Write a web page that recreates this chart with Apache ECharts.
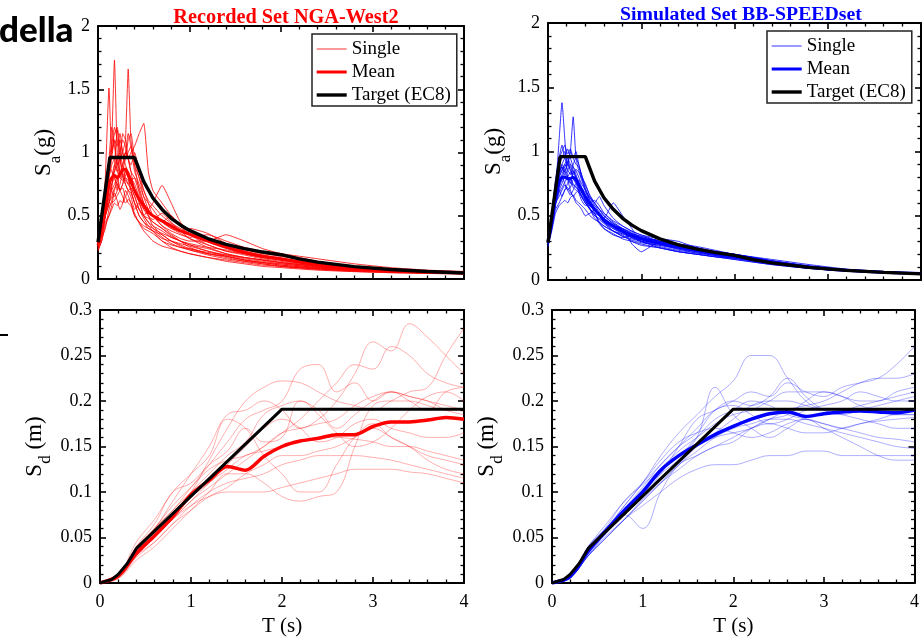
<!DOCTYPE html>
<html><head><meta charset="utf-8">
<script src="https://cdn.jsdelivr.net/npm/echarts@6/dist/echarts.min.js"></script>
<style>html,body{margin:0;padding:0;background:#fff}#c{width:922px;height:642px}</style>
</head><body><div id="c"></div>
<script>
// ---------- DATA ----------
const TSA = [0, 0.04, 0.08, 0.12, 0.15, 0.18, 0.21, 0.24, 0.27, 0.3, 0.33, 0.36, 0.4, 0.45, 0.5, 0.55, 0.6, 0.7, 0.8, 0.9, 1.0, 1.2, 1.4, 1.6, 1.8, 2.0, 2.4, 2.8, 3.2, 3.6, 4.0];
const TSD = [0, 0.2, 0.4, 0.6, 0.8, 1.0, 1.2, 1.4, 1.6, 1.8, 2.0, 2.2, 2.4, 2.6, 2.8, 3.0, 3.2, 3.4, 3.6, 3.8, 4.0];

const targetSaT = [0, 0.13, 0.4, 0.5, 0.6, 0.7, 0.8, 0.9, 1.0, 1.2, 1.4, 1.6, 1.8, 2.0, 2.2, 2.4, 2.8, 3.2, 3.6, 4.0];
const targetSaV = [0.29, 0.96, 0.96, 0.77, 0.64, 0.55, 0.48, 0.427, 0.384, 0.32, 0.274, 0.24, 0.213, 0.192, 0.159, 0.133, 0.098, 0.075, 0.059, 0.048];
const targetSdT = [0, 0.13, 0.2, 0.3, 0.4, 2.0, 4.0];
const targetSdV = [0, 0.004, 0.0095, 0.0215, 0.038, 0.191, 0.191];

const redSaMean = [0.27,0.38,0.55,0.76,0.8,0.82,0.8,0.83,0.86,0.87,0.82,0.77,0.7,0.63,0.58,0.53,0.5,0.46,0.42,0.38,0.355,0.3,0.25,0.21,0.18,0.16,0.115,0.088,0.07,0.058,0.05];
const blueSaMean = [0.3,0.45,0.63,0.76,0.8,0.8,0.79,0.79,0.8,0.78,0.74,0.7,0.65,0.59,0.55,0.51,0.47,0.42,0.38,0.345,0.32,0.285,0.255,0.23,0.205,0.185,0.138,0.1,0.075,0.06,0.05];
const redSdMean = [0,0.008,0.033,0.052,0.073,0.097,0.113,0.128,0.124,0.139,0.15,0.156,0.159,0.163,0.163,0.172,0.177,0.177,0.179,0.182,0.18];
const blueSdMean = [0,0.007,0.035,0.058,0.08,0.1,0.124,0.14,0.152,0.163,0.172,0.18,0.186,0.188,0.183,0.186,0.188,0.189,0.188,0.187,0.19];

const redSaSingles = [
 [0.27,0.4,0.6,0.9,1.1,1.73,1.0,0.85,0.9,0.8,0.75,0.7,0.6,0.5,0.45,0.42,0.4,0.33,0.28,0.25,0.24,0.2,0.17,0.14,0.12,0.1,0.08,0.065,0.055,0.05,0.045],
 [0.26,0.35,0.55,0.7,0.8,0.9,0.85,0.95,1.0,1.1,1.66,1.1,0.9,0.7,0.6,0.55,0.5,0.45,0.4,0.36,0.32,0.27,0.22,0.2,0.17,0.15,0.11,0.09,0.07,0.06,0.05],
 [0.25,0.4,0.8,1.51,1.0,1.1,0.9,0.95,0.8,0.75,0.7,0.65,0.55,0.6,0.5,0.45,0.42,0.38,0.33,0.3,0.27,0.22,0.18,0.15,0.13,0.11,0.085,0.07,0.058,0.05,0.045],
 [0.28,0.35,0.5,0.65,0.75,0.85,0.95,1.0,1.1,1.05,0.95,1.0,1.05,1.15,1.23,0.85,0.7,0.6,0.5,0.42,0.38,0.3,0.25,0.2,0.17,0.15,0.1,0.08,0.065,0.055,0.05],
 [0.3,0.4,0.55,0.6,0.7,0.75,0.8,0.7,0.75,0.85,0.8,0.7,0.6,0.55,0.5,0.55,0.6,0.74,0.6,0.45,0.38,0.3,0.35,0.3,0.24,0.2,0.14,0.1,0.08,0.065,0.055],
 [0.22,0.3,0.45,0.5,0.55,0.6,0.58,0.62,0.6,0.65,0.6,0.58,0.5,0.45,0.4,0.38,0.36,0.3,0.25,0.22,0.2,0.17,0.15,0.13,0.11,0.1,0.08,0.065,0.055,0.048,0.042],
 [0.27,0.45,0.7,0.95,1.2,1.05,0.9,1.1,1.0,0.9,0.85,0.8,0.75,0.65,0.6,0.5,0.45,0.4,0.35,0.3,0.25,0.2,0.18,0.15,0.13,0.12,0.09,0.07,0.06,0.052,0.046],
 [0.26,0.35,0.5,0.6,0.75,0.8,0.7,0.75,0.85,0.95,1.0,1.05,0.9,0.8,0.65,0.55,0.5,0.42,0.38,0.35,0.33,0.35,0.3,0.25,0.22,0.2,0.16,0.12,0.09,0.07,0.06],
 [0.29,0.5,0.75,0.9,0.85,0.8,0.75,0.7,0.72,0.65,0.7,0.68,0.6,0.5,0.45,0.4,0.38,0.32,0.3,0.28,0.26,0.22,0.19,0.16,0.14,0.12,0.09,0.075,0.06,0.052,0.046],
 [0.24,0.32,0.4,0.55,0.62,0.7,0.78,0.85,0.82,0.78,0.75,0.78,0.8,0.72,0.6,0.5,0.42,0.35,0.3,0.26,0.23,0.19,0.16,0.14,0.12,0.1,0.075,0.06,0.05,0.044,0.04],
 [0.28,0.42,0.6,0.85,1.0,1.15,1.2,1.05,0.95,1.0,1.15,1.05,0.85,0.75,0.65,0.6,0.55,0.45,0.4,0.38,0.4,0.36,0.28,0.22,0.18,0.15,0.11,0.085,0.07,0.058,0.05],
 [0.25,0.35,0.5,0.6,0.65,0.72,0.75,0.7,0.65,0.6,0.63,0.6,0.5,0.45,0.42,0.4,0.38,0.35,0.3,0.27,0.24,0.21,0.19,0.17,0.15,0.13,0.1,0.08,0.062,0.053,0.047],
 [0.3,0.45,0.65,0.8,0.9,0.95,0.85,0.8,0.9,1.0,0.95,0.9,1.0,0.85,0.7,0.6,0.5,0.45,0.5,0.42,0.35,0.27,0.22,0.19,0.16,0.14,0.1,0.08,0.065,0.055,0.048],
 [0.27,0.38,0.55,0.7,0.8,0.85,0.9,0.8,0.78,0.82,0.85,0.8,0.7,0.6,0.5,0.45,0.4,0.36,0.33,0.3,0.28,0.25,0.23,0.2,0.17,0.15,0.11,0.085,0.068,0.057,0.05],
 [0.26,0.36,0.52,0.65,0.72,0.9,1.18,0.95,0.85,0.75,0.7,0.72,0.65,0.55,0.48,0.42,0.38,0.3,0.27,0.25,0.23,0.2,0.18,0.15,0.13,0.11,0.085,0.068,0.055,0.048,0.043],
 [0.28,0.4,0.6,0.75,0.7,0.65,0.7,0.9,1.15,1.1,0.95,0.85,0.7,0.62,0.55,0.52,0.5,0.42,0.36,0.32,0.3,0.3,0.26,0.22,0.19,0.16,0.12,0.09,0.072,0.06,0.052],
 [0.23,0.3,0.42,0.5,0.58,0.68,0.62,0.55,0.6,0.7,0.66,0.6,0.52,0.44,0.38,0.34,0.3,0.26,0.24,0.22,0.2,0.17,0.14,0.12,0.1,0.09,0.07,0.058,0.05,0.044,0.04],
 [0.29,0.42,0.62,0.8,0.95,1.1,1.05,1.15,1.0,0.95,1.1,1.15,0.95,0.8,0.7,0.62,0.58,0.5,0.44,0.4,0.36,0.3,0.26,0.23,0.2,0.18,0.13,0.1,0.078,0.064,0.054],
 [0.26,0.36,0.5,0.58,0.6,0.62,0.66,0.7,0.75,0.8,0.78,0.72,0.66,0.55,0.5,0.48,0.45,0.4,0.34,0.3,0.27,0.24,0.2,0.17,0.15,0.13,0.095,0.075,0.06,0.05,0.045],
 [0.28,0.44,0.65,0.85,1.05,1.2,1.1,1.0,0.9,1.0,0.95,0.85,0.8,0.68,0.55,0.5,0.47,0.52,0.45,0.38,0.32,0.25,0.2,0.17,0.15,0.13,0.1,0.08,0.064,0.054,0.047]
];
const blueSaSingles = [
 [0.3,0.45,0.7,1.1,1.38,1.1,0.8,0.75,0.85,0.8,0.7,0.65,0.6,0.55,0.5,0.48,0.45,0.4,0.37,0.33,0.3,0.27,0.24,0.22,0.2,0.18,0.13,0.095,0.072,0.06,0.05],
 [0.28,0.4,0.6,0.75,0.8,0.85,0.9,1.0,1.27,0.95,0.85,0.8,0.7,0.6,0.55,0.5,0.47,0.42,0.38,0.35,0.33,0.3,0.27,0.24,0.21,0.19,0.14,0.1,0.076,0.062,0.052],
 [0.32,0.5,0.7,0.95,1.05,0.95,0.9,1.0,0.95,1.0,0.9,0.8,0.75,0.65,0.6,0.65,0.58,0.48,0.42,0.38,0.35,0.3,0.26,0.23,0.21,0.19,0.14,0.1,0.076,0.062,0.052],
 [0.29,0.45,0.6,0.7,0.65,0.7,0.75,0.8,0.72,0.7,0.68,0.65,0.6,0.55,0.52,0.5,0.48,0.6,0.5,0.4,0.3,0.32,0.3,0.25,0.22,0.2,0.145,0.105,0.078,0.063,0.053],
 [0.31,0.5,0.75,0.85,0.9,0.85,0.8,0.78,0.75,0.72,0.7,0.65,0.6,0.55,0.52,0.45,0.4,0.35,0.33,0.35,0.3,0.28,0.25,0.22,0.2,0.18,0.135,0.1,0.075,0.06,0.05],
 [0.3,0.45,0.65,0.8,0.85,0.9,0.95,0.9,0.85,0.8,0.75,0.7,0.65,0.6,0.55,0.5,0.45,0.38,0.35,0.3,0.27,0.25,0.22,0.2,0.18,0.17,0.13,0.095,0.072,0.058,0.048],
 [0.28,0.42,0.6,0.7,0.75,0.8,0.78,0.7,0.65,0.68,0.7,0.72,0.65,0.58,0.55,0.5,0.45,0.42,0.4,0.28,0.22,0.3,0.28,0.25,0.21,0.18,0.13,0.095,0.072,0.058,0.048],
 [0.3,0.48,0.7,0.9,0.95,1.0,0.92,0.85,0.8,0.75,0.78,0.72,0.62,0.55,0.48,0.45,0.42,0.38,0.34,0.31,0.29,0.27,0.25,0.24,0.22,0.2,0.15,0.11,0.08,0.064,0.053],
 [0.27,0.4,0.55,0.6,0.65,0.7,0.72,0.68,0.65,0.6,0.58,0.55,0.5,0.52,0.55,0.52,0.48,0.42,0.38,0.35,0.32,0.28,0.24,0.21,0.19,0.17,0.13,0.095,0.072,0.058,0.048],
 [0.3,0.46,0.68,0.85,0.88,0.82,0.85,0.9,0.88,0.85,0.8,0.75,0.7,0.62,0.56,0.5,0.45,0.4,0.36,0.33,0.31,0.28,0.25,0.23,0.21,0.19,0.14,0.1,0.075,0.06,0.05],
 [0.29,0.44,0.62,0.78,0.8,0.75,0.7,0.72,0.78,0.8,0.75,0.68,0.62,0.56,0.5,0.47,0.44,0.38,0.34,0.32,0.3,0.26,0.23,0.21,0.19,0.17,0.125,0.092,0.07,0.056,0.047],
 [0.31,0.47,0.66,0.82,0.9,0.95,1.02,0.95,0.88,0.82,0.76,0.7,0.64,0.6,0.58,0.55,0.5,0.44,0.39,0.36,0.34,0.3,0.26,0.23,0.21,0.19,0.145,0.105,0.078,0.063,0.052],
 [0.3,0.44,0.6,0.72,0.78,0.82,0.8,0.76,0.74,0.72,0.7,0.66,0.62,0.58,0.54,0.5,0.46,0.41,0.37,0.34,0.32,0.28,0.26,0.22,0.19,0.17,0.13,0.095,0.072,0.058,0.049],
 [0.28,0.42,0.58,0.68,0.72,0.76,0.8,0.84,0.8,0.76,0.72,0.68,0.66,0.6,0.52,0.44,0.4,0.36,0.32,0.3,0.28,0.25,0.22,0.2,0.18,0.16,0.12,0.09,0.07,0.056,0.047],
 [0.3,0.46,0.64,0.8,0.86,0.9,0.86,0.82,0.9,0.95,0.9,0.82,0.72,0.62,0.56,0.52,0.48,0.42,0.4,0.37,0.33,0.29,0.25,0.22,0.2,0.18,0.135,0.1,0.074,0.06,0.05],
 [0.29,0.44,0.62,0.76,0.82,0.88,0.92,0.88,0.84,0.8,0.76,0.72,0.68,0.64,0.6,0.55,0.5,0.44,0.4,0.36,0.33,0.3,0.27,0.24,0.22,0.2,0.15,0.105,0.078,0.062,0.051],
 [0.26,0.38,0.52,0.58,0.6,0.62,0.6,0.64,0.66,0.62,0.6,0.58,0.55,0.5,0.47,0.45,0.42,0.38,0.36,0.33,0.3,0.25,0.22,0.2,0.18,0.16,0.12,0.09,0.07,0.056,0.047],
 [0.32,0.52,0.78,0.95,1.0,1.05,0.98,1.02,0.95,0.9,0.88,0.82,0.74,0.66,0.6,0.55,0.52,0.46,0.42,0.38,0.35,0.32,0.28,0.25,0.22,0.2,0.15,0.11,0.08,0.064,0.053],
 [0.29,0.44,0.6,0.65,0.7,0.74,0.7,0.66,0.7,0.75,0.68,0.62,0.58,0.6,0.62,0.58,0.52,0.45,0.4,0.36,0.34,0.3,0.28,0.26,0.23,0.2,0.16,0.12,0.085,0.066,0.054],
 [0.3,0.46,0.66,0.82,0.88,0.84,0.9,0.86,0.82,0.86,0.84,0.78,0.7,0.64,0.58,0.53,0.48,0.43,0.38,0.35,0.32,0.29,0.26,0.24,0.21,0.19,0.14,0.1,0.076,0.061,0.05]
];
const redSdSingles = [
 [0,0.008,0.04,0.06,0.09,0.12,0.15,0.185,0.19,0.2,0.19,0.17,0.18,0.2,0.23,0.265,0.255,0.285,0.27,0.25,0.23],
 [0,0.006,0.03,0.05,0.075,0.1,0.135,0.17,0.2,0.215,0.222,0.22,0.21,0.2,0.195,0.19,0.2,0.21,0.215,0.25,0.28],
 [0,0.007,0.035,0.06,0.08,0.105,0.13,0.155,0.18,0.19,0.2,0.235,0.24,0.21,0.22,0.2,0.21,0.2,0.19,0.21,0.215],
 [0,0.005,0.025,0.04,0.06,0.08,0.1,0.12,0.12,0.11,0.095,0.09,0.095,0.1,0.15,0.195,0.2,0.2,0.195,0.19,0.19],
 [0,0.006,0.03,0.045,0.065,0.085,0.1,0.11,0.115,0.12,0.13,0.135,0.14,0.14,0.14,0.138,0.135,0.13,0.125,0.12,0.115],
 [0,0.007,0.035,0.055,0.075,0.095,0.11,0.13,0.15,0.17,0.18,0.17,0.155,0.16,0.175,0.18,0.17,0.165,0.16,0.16,0.165],
 [0,0.006,0.03,0.05,0.07,0.085,0.095,0.1,0.1,0.1,0.105,0.11,0.115,0.12,0.125,0.125,0.125,0.122,0.12,0.115,0.11],
 [0,0.008,0.045,0.07,0.1,0.12,0.14,0.18,0.17,0.14,0.12,0.1,0.1,0.13,0.16,0.175,0.16,0.15,0.14,0.135,0.13],
 [0,0.007,0.04,0.065,0.1,0.11,0.13,0.145,0.17,0.155,0.16,0.2,0.19,0.17,0.185,0.2,0.21,0.205,0.2,0.19,0.185],
 [0,0.006,0.03,0.05,0.07,0.09,0.11,0.125,0.14,0.145,0.15,0.155,0.16,0.16,0.158,0.155,0.15,0.15,0.145,0.14,0.135],
 [0,0.007,0.035,0.06,0.085,0.105,0.125,0.135,0.14,0.15,0.165,0.18,0.2,0.22,0.24,0.235,0.26,0.25,0.23,0.22,0.215],
 [0,0.006,0.03,0.05,0.07,0.09,0.105,0.12,0.135,0.15,0.165,0.17,0.175,0.18,0.195,0.205,0.21,0.205,0.2,0.195,0.19],
 [0,0.005,0.028,0.045,0.065,0.08,0.095,0.105,0.12,0.13,0.14,0.14,0.145,0.15,0.16,0.17,0.16,0.15,0.135,0.125,0.12],
 [0,0.007,0.038,0.06,0.08,0.1,0.12,0.14,0.155,0.185,0.195,0.2,0.185,0.165,0.15,0.155,0.17,0.19,0.205,0.21,0.2]
];
const blueSdSingles = [
 [0,0.007,0.035,0.06,0.085,0.11,0.14,0.165,0.185,0.205,0.222,0.25,0.25,0.225,0.2,0.19,0.185,0.18,0.175,0.17,0.17],
 [0,0.006,0.03,0.055,0.075,0.095,0.12,0.15,0.18,0.19,0.2,0.21,0.205,0.22,0.21,0.205,0.215,0.22,0.225,0.24,0.26],
 [0,0.007,0.04,0.06,0.075,0.06,0.1,0.13,0.14,0.15,0.155,0.17,0.18,0.185,0.2,0.21,0.205,0.2,0.2,0.21,0.215],
 [0,0.006,0.03,0.05,0.07,0.085,0.1,0.115,0.125,0.13,0.13,0.135,0.14,0.14,0.145,0.145,0.14,0.14,0.14,0.14,0.14],
 [0,0.007,0.035,0.055,0.08,0.1,0.125,0.145,0.16,0.175,0.185,0.19,0.2,0.21,0.21,0.21,0.205,0.195,0.19,0.185,0.185],
 [0,0.006,0.03,0.05,0.07,0.09,0.11,0.13,0.145,0.16,0.17,0.175,0.18,0.18,0.175,0.17,0.165,0.16,0.155,0.15,0.148],
 [0,0.007,0.04,0.065,0.09,0.11,0.13,0.15,0.17,0.19,0.195,0.185,0.175,0.18,0.19,0.195,0.2,0.21,0.205,0.2,0.2],
 [0,0.006,0.035,0.06,0.08,0.1,0.125,0.14,0.16,0.215,0.185,0.17,0.16,0.17,0.18,0.175,0.17,0.175,0.18,0.185,0.185],
 [0,0.007,0.04,0.06,0.085,0.11,0.135,0.155,0.165,0.17,0.165,0.16,0.165,0.175,0.18,0.17,0.16,0.15,0.14,0.135,0.135],
 [0,0.006,0.032,0.055,0.075,0.1,0.12,0.135,0.15,0.16,0.165,0.17,0.18,0.19,0.195,0.2,0.21,0.22,0.225,0.225,0.23],
 [0,0.007,0.036,0.058,0.082,0.105,0.13,0.15,0.165,0.19,0.2,0.195,0.205,0.225,0.205,0.19,0.185,0.19,0.195,0.2,0.205],
 [0,0.006,0.03,0.052,0.07,0.092,0.11,0.125,0.14,0.15,0.16,0.17,0.175,0.17,0.165,0.165,0.17,0.175,0.178,0.18,0.182],
 [0,0.007,0.038,0.062,0.09,0.108,0.125,0.14,0.16,0.18,0.19,0.2,0.195,0.185,0.18,0.175,0.17,0.165,0.16,0.158,0.155],
 [0,0.006,0.03,0.05,0.07,0.09,0.11,0.13,0.15,0.165,0.18,0.195,0.2,0.2,0.195,0.19,0.19,0.195,0.2,0.205,0.21]
];

const titles = ['Recorded Set NGA-West2', 'Simulated Set BB-SPEEDset'];
const legendNames = ['Single', 'Mean', 'Target (EC8)'];
const saTicks = [0, 0.5, 1, 1.5, 2];
const sdTicks = [0, 0.05, 0.1, 0.15, 0.2, 0.25, 0.3];
const tTicks = [0, 1, 2, 3, 4];

// ---------- CHART ----------
const FONT = '"Liberation Serif", "Times New Roman", serif';
const RED = '#ff0000', BLUE = '#0000ff';
const chart = echarts.init(document.getElementById('c'), null, {renderer: 'canvas'});

const grids = [
  {left: 98, top: 26, width: 366, height: 253},
  {left: 548, top: 23, width: 373, height: 257},
  {left: 100, top: 310, width: 364, height: 273},
  {left: 552, top: 310, width: 369, height: 273}
];

const axisLine = {show: true, onZero: false, lineStyle: {color: '#000', width: 2}};
const axisTick = {show: true, inside: true, length: 6, lineStyle: {color: '#000', width: 1.6}};
const minorTick = {show: true, splitNumber: 5, length: 3.5, lineStyle: {color: '#000', width: 1.3}};

const xAxis = [], yAxis = [];
grids.forEach((g, gi) => {
  const bottom = gi >= 2;
  const xb = {type: 'value', gridIndex: gi, min: tTicks[0], max: tTicks[tTicks.length - 1], interval: 1,
    splitLine: {show: false}, axisLine, axisTick, minorTick};
  xAxis.push(Object.assign({}, xb, {position: 'bottom',
    axisLabel: {show: bottom, color: '#000', fontFamily: FONT, fontSize: 18, margin: 10},
    name: bottom ? 'T (s)' : '', nameLocation: 'middle', nameGap: 33,
    nameTextStyle: {color: '#000', fontFamily: FONT, fontSize: 21}}));
  xAxis.push(Object.assign({}, xb, {position: 'top', axisLabel: {show: false}}));
  const ticks = bottom ? sdTicks : saTicks;
  const yb = {type: 'value', gridIndex: gi, min: ticks[0], max: ticks[ticks.length - 1], interval: ticks[1] - ticks[0],
    splitLine: {show: false}, axisLine, axisTick, minorTick};
  const sub = bottom ? 'd' : 'a';
  const unit = bottom ? ' (m)' : '(g)';
  yAxis.push(Object.assign({}, yb, {position: 'left',
    axisLabel: {show: true, color: '#000', fontFamily: FONT, fontSize: 18, margin: 8,
      formatter: v => String(+v.toFixed(3))},
    name: '{m|S}{s|' + sub + '}{m|' + unit + '}', nameLocation: 'middle', nameRotate: 90,
    nameGap: bottom ? 53 : 38,
    nameTextStyle: {rich: {
      m: {fontFamily: FONT, fontSize: 23, color: '#000', lineHeight: 24},
      s: {fontFamily: FONT, fontSize: 17, color: '#000', lineHeight: 20, padding: [22, 0, 0, 0]}
    }}}));
  yAxis.push(Object.assign({}, yb, {position: 'right', axisLabel: {show: false}}));
});

const series = [];
function addLine(gi, name, xs, ys, color, width, opacity, smooth, z) {
  series.push({type: 'line', name, xAxisIndex: gi * 2, yAxisIndex: gi * 2,
    data: xs.map((t, i) => [t, ys[i]]), symbol: 'none', smooth: smooth, z: z,
    lineStyle: {color, width, opacity}, itemStyle: {color}, silent: true, animation: false});
}
const sfx = ['', ' '];
// Sa panels
[[redSaSingles, redSaMean, RED], [blueSaSingles, blueSaMean, BLUE]].forEach(([sing, mean, col], p) => {
  sing.forEach(s => addLine(p, legendNames[0] + sfx[p], TSA, s, col, 0.8, 1, 0.15, 2));
  addLine(p, legendNames[1] + sfx[p], TSA, mean, col, 3, 1, 0.2, 3);
  addLine(p, legendNames[2] + sfx[p], targetSaT, targetSaV, '#000', 3.4, 1, false, 4);
});
// Sd panels
[[redSdSingles, redSdMean, RED], [blueSdSingles, blueSdMean, BLUE]].forEach(([sing, mean, col], p) => {
  sing.forEach(s => addLine(p + 2, 'sd-single-' + p, TSD, s, col, 0.7, 0.45, 0.4, 2));
  addLine(p + 2, 'sd-mean-' + p, TSD, mean, col, 3.5, 1, 0.3, 3);
  addLine(p + 2, 'sd-target-' + p, targetSdT, targetSdV, '#000', 3, 1, false, 4);
});

const legendBase = {orient: 'vertical', backgroundColor: '#fff', borderColor: '#222', borderWidth: 1.5,
  padding: [5, 6, 1, 3], itemGap: 3, itemWidth: 30, itemHeight: 20,
  itemStyle: {opacity: 0}, lineStyle: {width: 'inherit'},
  textStyle: {fontFamily: FONT, fontSize: 19, color: '#000', lineHeight: 20},
  formatter: n => n.trim(), selectedMode: false};

chart.setOption({
  animation: false,
  backgroundColor: '#fff',
  title: [
    {text: titles[0], left: 281, top: 3, textAlign: 'center',
     textStyle: {fontFamily: FONT, fontWeight: 'bold', fontSize: 20.3, color: RED}},
    {text: titles[1], left: 736, top: 0, textAlign: 'center',
     textStyle: {fontFamily: FONT, fontWeight: 'bold', fontSize: 19.8, color: BLUE}}
  ],
  legend: [
    Object.assign({}, legendBase, {left: 312, top: 34, data: legendNames.map(n => n)}),
    Object.assign({}, legendBase, {left: 767, top: 31, data: legendNames.map(n => n + ' ')})
  ],
  graphic: [
    {type: 'text', left: -1, top: 13, style: {text: 'della', font: '900 35px Lato, "Open Sans", sans-serif', fill: '#000'}},
    {type: 'rect', left: 0, top: 334, shape: {width: 8, height: 2}, style: {fill: '#000'}}
  ],
  grid: grids.map(g => Object.assign({containLabel: false}, g)),
  xAxis, yAxis, series
});
</script>
</body></html>
